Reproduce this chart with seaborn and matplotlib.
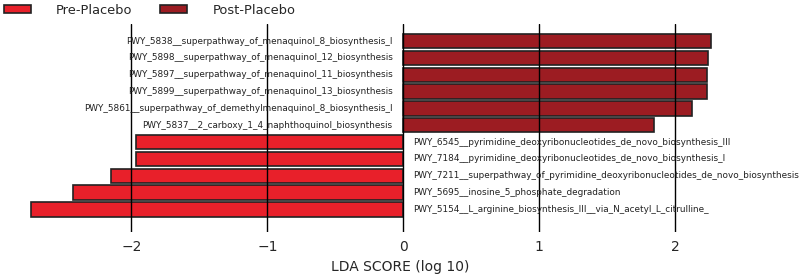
import pandas as pd
import seaborn as sns
import matplotlib.pyplot as plt

# LDA scores
pathways = [
    "PWY_5838__superpathway_of_menaquinol_8_biosynthesis_I",
    "PWY_5898__superpathway_of_menaquinol_12_biosynthesis",
    "PWY_5897__superpathway_of_menaquinol_11_biosynthesis",
    "PWY_5899__superpathway_of_menaquinol_13_biosynthesis",
    "PWY_5861__superpathway_of_demethylmenaquinol_8_biosynthesis_I",
    "PWY_5837__2_carboxy_1_4_naphthoquinol_biosynthesis",
    "PWY_6545__pyrimidine_deoxyribonucleotides_de_novo_biosynthesis_III",
    "PWY_7184__pyrimidine_deoxyribonucleotides_de_novo_biosynthesis_I",
    "PWY_7211__superpathway_of_pyrimidine_deoxyribonucleotides_de_novo_biosynthesis",
    "PWY_5695__inosine_5_phosphate_degradation",
    "PWY_5154__L_arginine_biosynthesis_III__via_N_acetyl_L_citrulline_",
]
lda_scores = [2.26, 2.24, 2.23, 2.23, 2.12, 1.84, -1.97, -1.97, -2.15, -2.43, -2.74]
groups = ["Post-Placebo"] * 6 + ["Pre-Placebo"] * 5
group_order = ["Pre-Placebo", "Post-Placebo"]
colors = {"Pre-Placebo": "#E8202A", "Post-Placebo": "#9C1C22"}

df = pd.DataFrame({"pathway": pathways, "lda": lda_scores, "group": groups})

sns.set_style("white")
plt.rcParams['font.family'] = ['DejaVu Sans']

fig = plt.figure(figsize=(8, 2.75), dpi=100)
ax = fig.add_axes([0.025, 1 - 232 / 275, 0.95, 208 / 275])

sns.barplot(data=df, x="lda", y="pathway", hue="group", hue_order=group_order,
            palette=colors, dodge=False, orient="h", width=0.85,
            edgecolor="#222222", linewidth=1.2, saturation=1, ax=ax)

# pathway names next to the zero line
for i, (name, val) in enumerate(zip(pathways, lda_scores)):
    if val > 0:
        ax.text(-0.08, i, name, ha="right", va="center", fontsize=6.4, color="#222222")
    else:
        ax.text(0.07, i, name, ha="left", va="center", fontsize=6.4, color="#222222")

ax.set_xlim(-2.82, 2.77)
ax.set_ylim(11.34, -1.01)
ax.set_xticks([-2, -1, 0, 1, 2])
ax.set_yticks([])
ax.set_ylabel("")
ax.set_xlabel("LDA SCORE (log 10)", fontsize=10)
ax.tick_params(axis="x", length=0, labelsize=10, pad=6)
ax.xaxis.grid(True, color="black", linewidth=1)
ax.set_axisbelow(False)
for s in ax.spines.values():
    s.set_visible(False)

ax.legend(loc="upper left", bbox_to_anchor=(0.0, 1.0), bbox_transform=fig.transFigure,
          ncol=2, frameon=False, fontsize=9.4, handlelength=2.1, handleheight=0.6,
          columnspacing=2.1, handletextpad=1.9, borderaxespad=0.2, borderpad=0.1)

fig.savefig("out.png", dpi=100)
